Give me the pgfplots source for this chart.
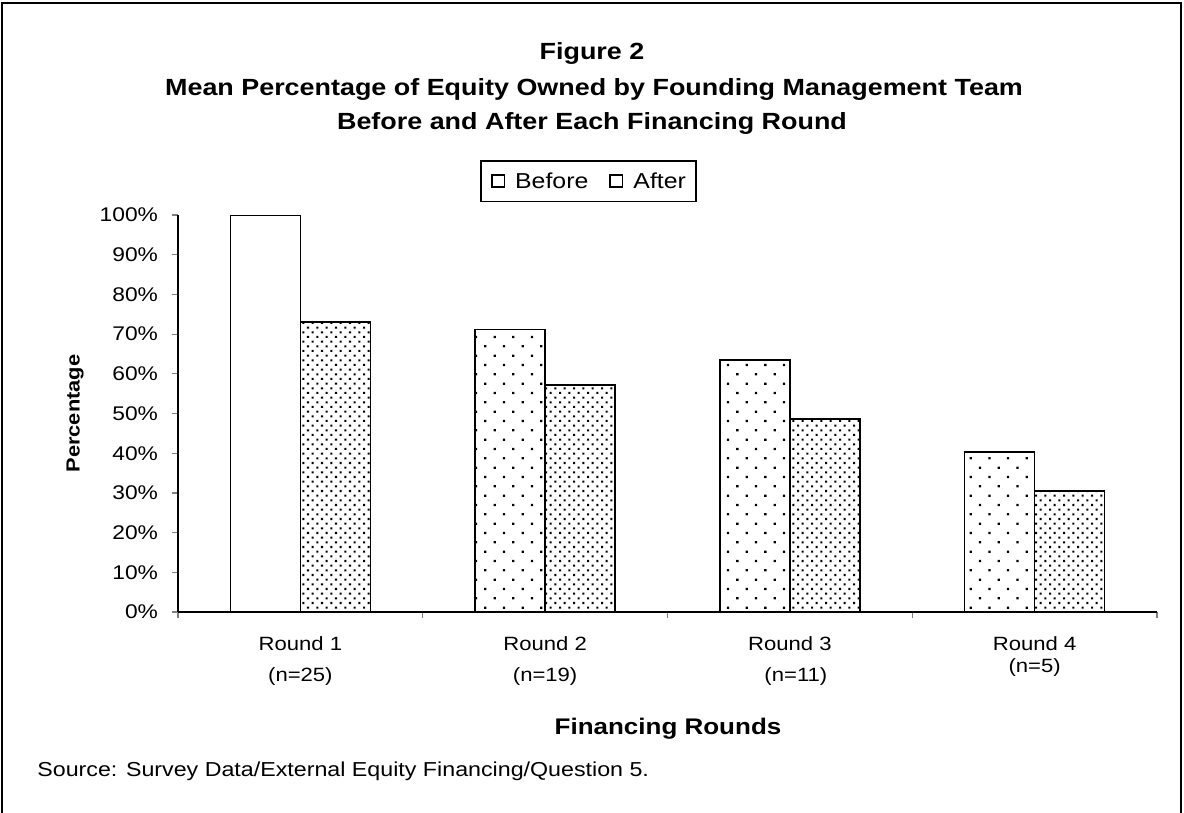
\documentclass[border=0pt]{standalone}
\usepackage{pgfplots}
\pgfplotsset{compat=1.18}
\usepackage{fontspec}
\setmainfont{Liberation Sans}[FakeStretch=1.15]
\usetikzlibrary{patterns.meta}
\pgfplotstableread{
x before after
0 100.0 73.0
1 71.2 57.2
2 63.5 48.6
3 40.3 30.5
}\equitydata
\begin{document}
\begin{tikzpicture}
\useasboundingbox (0,0) rectangle (592bp,-406.5bp);
\draw[line width=0.9bp] (1bp,-406.5bp) -- (1bp,-1.5bp) -- (590.5bp,-1.5bp) -- (590.5bp,-406.5bp);
\begin{scope}[every node/.style={font=\fontsize{11.7bp}{13bp}\selectfont\bfseries}]
\node at (296bp,-26.5bp) {Figure 2};
\node at (297bp,-44.5bp) {Mean Percentage of Equity Owned by Founding Management Team};
\node at (296bp,-61.5bp) {Before and After Each Financing Round};
\end{scope}
\begin{axis}[
  at={(89bp,-306bp)}, anchor=south west,
  scale only axis, width=489.5bp, height=198.5bp,
  xmin=-0.5, xmax=3.5, ymin=0, ymax=100,
  axis x line*=bottom, axis y line*=left,
  axis line style={line width=0.8bp},
  ybar=0pt, bar width=35bp,
  xtick={0,1,2,3},
  xticklabels={{Round 1\\[4bp](n=25)},{Round 2\\[4bp](n=19)},{Round 3\\[4bp]\hspace*{6bp}(n=11)},{Round 4\\[-0.5bp](n=5)}},
  xticklabel style={align=center, font=\fontsize{9.6bp}{11.5bp}\selectfont, yshift=-5.7bp},
  major x tick style={draw=none},
  minor xtick={-0.5,0.5,1.5,2.5,3.5},
  minor x tick style={line width=0.6bp},
  ytick={0,10,...,100},
  yticklabels={0\%,10\%,20\%,30\%,40\%,50\%,60\%,70\%,80\%,90\%,100\%},
  yticklabel style={font=\fontsize{9.9bp}{11bp}\selectfont, xshift=-3.5bp},
  y tick style={line width=0.6bp},
  tick align=outside, major tick length=3bp, minor tick length=3bp,
  xlabel={Financing Rounds},
  xlabel style={at={(axis description cs:0.5005,-0.295)}, anchor=center, font=\fontsize{11.3bp}{13bp}\selectfont\bfseries},
  ylabel={Percentage},
  ylabel style={at={(axis description cs:-0.105,0.5)}, anchor=center, font=\fontsize{9.5bp}{11bp}\selectfont\bfseries},
  legend style={at={(0.4193,1.0856)}, anchor=center, legend columns=2, draw=black, line width=0.8bp,
    font=\fontsize{10.8bp}{13bp}\selectfont, inner xsep=5bp, inner ysep=6bp,
    nodes={inner sep=0pt, text height=7.8bp, text depth=0.5bp},
    /tikz/every odd column/.append style={column sep=5bp},
    /tikz/every even column/.append style={column sep=10.5bp}},
  legend image code/.code={\draw[black, line width=0.75bp, fill=white] (0bp,-3.1bp) rectangle (6.3bp,3.1bp);},
]
\addplot[draw=black, line width=0.8bp, fill=white, bar shift=-17.5bp, forget plot]
  table[x=x, y=before, restrict x to domain=0:0] {\equitydata};
\addplot[draw=black, line width=0.8bp, pattern={Dots[distance=6.6bp, radius=0.8bp, angle=45]}, bar shift=-17.5bp]
  table[x=x, y=before, restrict x to domain=1:3] {\equitydata};
\addlegendentry{Before}
\addplot[draw=black, line width=0.8bp, pattern={Dots[distance=3.3bp, radius=0.72bp, angle=45]}, bar shift=17.5bp]
  table[x=x, y=after] {\equitydata};
\addlegendentry{After}
\end{axis}
\node[anchor=west, inner sep=0pt, font=\fontsize{10.1bp}{12bp}\selectfont] at (18.5bp,-385.5bp) {Source: Survey Data/External Equity Financing/Question 5.};
\end{tikzpicture}
\end{document}
